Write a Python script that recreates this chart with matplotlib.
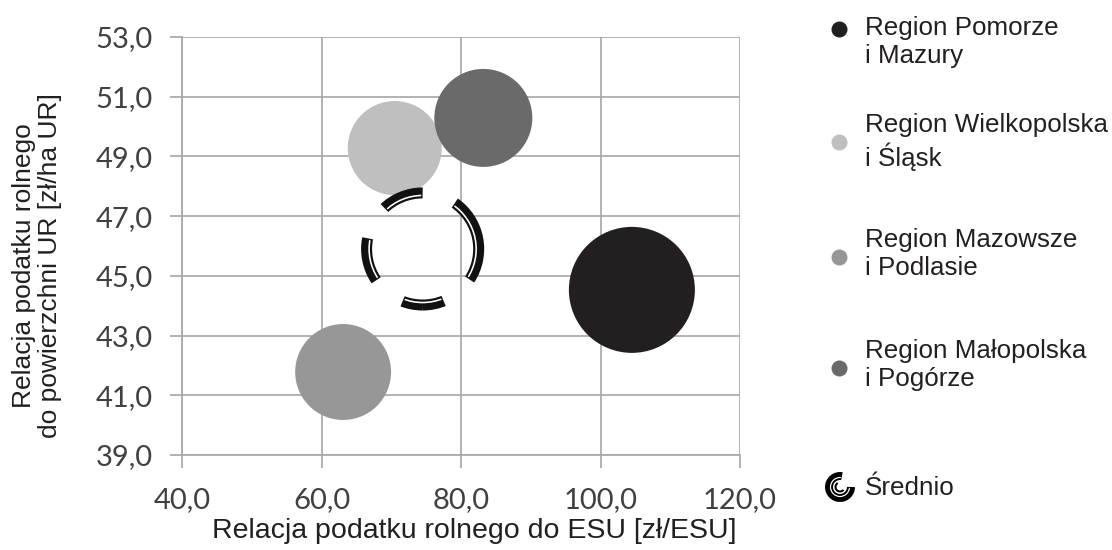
import matplotlib
matplotlib.use("Agg")
import matplotlib.pyplot as plt
import numpy as np

# data
regions = ["Region Pomorze\ni Mazury", "Region Wielkopolska\ni Śląsk",
           "Region Mazowsze\ni Podlasie", "Region Małopolska\ni Pogórze"]
tax_per_esu = [104.5, 70.5, 63.1, 83.2]        # zł/ESU
tax_per_ha = [44.53, 49.28, 41.78, 50.29]      # zł/ha UR
bubble_size = [39.7, 22.1, 23.0, 24.0]          # relative bubble area
colors = ["#231f20", "#bfbfbf", "#979797", "#6a6a6a"]

avg_label = "Średnio"
avg_esu = 74.5
avg_ha = 45.9
avg_size = 31.4

x_ticks = [40, 60, 80, 100, 120]
y_ticks = [39, 41, 43, 45, 47, 49, 51, 53]

plt.rcParams["lines.scale_dashes"] = False
W, H, DPI = 1112, 550, 100
PT = 72 / DPI  # points per pixel


def area_to_s(a):
    # relative area -> scatter size (pt^2); radius px = 10*sqrt(a)
    r_px = 10 * np.sqrt(a)
    return (2 * r_px * PT) ** 2


def deg(d, r):
    # arc length in points of d degrees on a circle of radius r px
    return r * PT * np.pi / 180 * d


fig = plt.figure(figsize=(W / DPI, H / DPI), dpi=DPI)
ax = fig.add_axes([182 / W, 1 - 455 / H, 558 / W, 418 / H])

ax.scatter(tax_per_esu, tax_per_ha, s=[area_to_s(a) for a in bubble_size],
           c=colors, linewidths=0, zorder=3)

# average: dashed double ring
r_mid = 10 * np.sqrt(avg_size)  # px
pattern = [43, 35, 88, 35, 43, 36, 45, 35]
dash_black = (deg(21, r_mid), [deg(d, r_mid) for d in pattern])
ax.scatter([avg_esu], [avg_ha], s=(2 * r_mid * PT) ** 2, facecolors="none",
           edgecolors="#111111", linewidths=11 * PT, linestyles=[dash_black], zorder=4)
r_w = r_mid - 2.5
pattern_w = [40, 38, 85, 38, 40, 39, 42, 38]
dash_white = (deg(19.5, r_w), [deg(d, r_w) for d in pattern_w])
ax.scatter([avg_esu], [avg_ha], s=(2 * r_w * PT) ** 2, facecolors="none",
           edgecolors="white", linewidths=1.6 * PT, linestyles=[dash_white], zorder=5)

ax.set_xlim(40, 120)
ax.set_ylim(39, 53)
ax.set_xticks(x_ticks)
ax.set_yticks(y_ticks)
ax.set_xticklabels([f"{v:.1f}".replace(".", ",") for v in x_ticks])
ax.set_yticklabels([f"{v:.1f}".replace(".", ",") for v in y_ticks])
ax.grid(True, color="#a6a6a6", linewidth=1.2)
ax.set_axisbelow(True)
for side in ["top", "right"]:
    ax.spines[side].set_visible(False)
for side in ["left", "bottom"]:
    ax.spines[side].set_color("#a6a6a6")
    ax.spines[side].set_linewidth(1.2)
ax.tick_params(axis="both", colors="#a6a6a6", length=9, width=1.2,
               labelcolor="#404040", labelsize=21)
ax.tick_params(axis="y", pad=12)
ax.tick_params(axis="x", pad=14)
for lab in ax.get_xticklabels() + ax.get_yticklabels():
    lab.set_family("Lato")

fig.text(474 / W, 1 - 531 / H, "Relacja podatku rolnego do ESU [zł/ESU]",
         ha="center", va="center", fontsize=20.5, family="Liberation Sans", color="#231f20")
fig.text(37 / W, 1 - 266 / H, "Relacja podatku rolnego\ndo powierzchni UR [zł/ha UR]",
         ha="center", va="center", rotation=90, fontsize=19, family="Liberation Sans",
         color="#231f20", linespacing=1.15)

# legend
leg = fig.add_axes([0, 0, 1, 1], facecolor="none")
leg.set_xlim(0, W)
leg.set_ylim(H, 0)
leg.axis("off")
marker_y = [29, 142, 257, 368]
text_y = [42, 142, 254, 365]
for name, col, my, ty in zip(regions, colors, marker_y, text_y):
    leg.scatter([839], [my], s=(16 * PT) ** 2, color=col, linewidths=0)
    leg.text(865, ty, name, ha="left", va="center", fontsize=18.7,
             family="Liberation Sans", color="#231f20", linespacing=1.25)

# legend icon for the average: thick C with white inner line
r_l = 11
leg.scatter([840], [487], s=(2 * r_l * PT) ** 2, facecolors="none", edgecolors="black",
            linewidths=8 * PT, linestyles=[(deg(190, r_l), [deg(280, r_l), deg(80, r_l)])])
r_lw = 9.5
leg.scatter([840], [487], s=(2 * r_lw * PT) ** 2, facecolors="none", edgecolors="white",
            linewidths=1.2 * PT, linestyles=[(deg(185, r_lw), [deg(270, r_lw), deg(90, r_lw)])])
r_li = 4.5
leg.scatter([840], [487], s=(2 * r_li * PT) ** 2, facecolors="none", edgecolors="black",
            linewidths=2 * PT, linestyles=[(deg(150, r_li), [deg(200, r_li), deg(160, r_li)])])
leg.text(865, 488, avg_label, ha="left", va="center", fontsize=18.7,
         family="Liberation Sans", color="#231f20")

fig.savefig("out.png", dpi=DPI)
